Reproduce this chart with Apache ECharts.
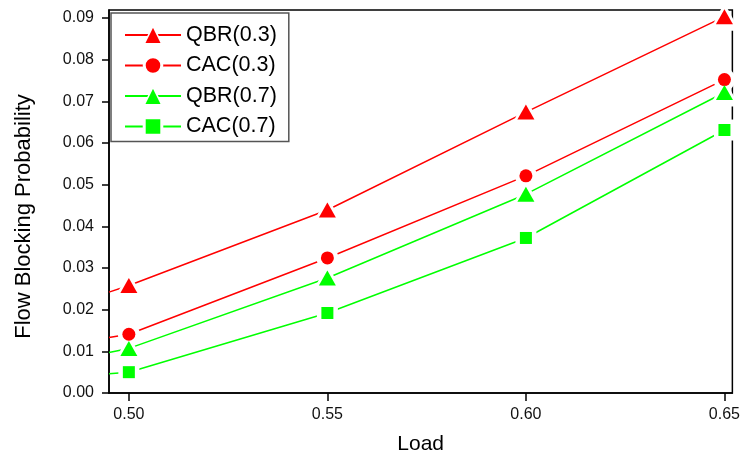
<!DOCTYPE html>
<html>
<head>
<meta charset="utf-8">
<script src="https://cdn.jsdelivr.net/npm/echarts@6/dist/echarts.min.js"></script>
<style>html,body{margin:0;padding:0;background:#fff}#chart{width:743px;height:460px}</style>
</head>
<body>
<div id="chart"></div>
<script>
// Data
const loads = [0.50, 0.55, 0.60, 0.65];
const xTicks = [0.50, 0.55, 0.60, 0.65];
const yTicks = [0.00, 0.01, 0.02, 0.03, 0.04, 0.05, 0.06, 0.07, 0.08, 0.09];
const seriesNames = ['QBR(0.3)', 'CAC(0.3)', 'QBR(0.7)', 'CAC(0.7)'];
const qbr03 = [0.0258, 0.0439, 0.0674, 0.0903];
const cac03 = [0.0141, 0.0324, 0.0521, 0.0752];
const qbr07 = [0.0107, 0.0276, 0.0477, 0.0721];
const cac07 = [0.0050, 0.0192, 0.0372, 0.0631];
// line values where each curve enters the plot at the left frame edge
const edgeLoad = 0.495;
const edgeValues = [0.0242, 0.0133, 0.0097, 0.0046];

const allValues = [qbr03, cac03, qbr07, cac07];
const colors = ['#ff0000', '#ff0000', '#00ff00', '#00ff00'];
const symbols = ['triangle', 'circle', 'triangle', 'rect'];
const symSizes = [[17, 15], 13, [17, 15], 12];
const haloGrow = [13, 9, 13, 9];
const legendHalo = [1.5, 3, 1.5, 3];
const FONT = '"Liberation Sans", Arial, sans-serif';

function grow(s, d) { return Array.isArray(s) ? [s[0] + d, s[1] + d] : s + d; }

const series = [];
allValues.forEach((vals, i) => {
  series.push({
    name: seriesNames[i], type: 'line', z: 2,
    data: [[edgeLoad, edgeValues[i]]].concat(loads.map((x, k) => [x, vals[k]])),
    symbol: symbols[i], symbolSize: symSizes[i], showSymbol: false,
    lineStyle: { color: colors[i], width: 1.5 },
    itemStyle: { color: colors[i], opacity: 1 },
    emphasis: { disabled: true }, silent: true, animation: false
  });
});
allValues.forEach((vals, i) => {
  series.push({
    name: seriesNames[i] + '_halo', type: 'scatter', z: 5, clip: false,
    data: loads.map((x, k) => [x, vals[k]]),
    symbol: symbols[i], symbolSize: grow(symSizes[i], haloGrow[i]),
    itemStyle: { color: '#ffffff', opacity: 1 },
    emphasis: { disabled: true }, silent: true, animation: false
  });
});
allValues.forEach((vals, i) => {
  series.push({
    name: seriesNames[i] + '_mark', type: 'scatter', z: 6, clip: false,
    data: loads.map((x, k) => [x, vals[k]]),
    symbol: symbols[i], symbolSize: symSizes[i],
    itemStyle: { color: colors[i], opacity: 1 },
    emphasis: { disabled: true }, silent: true, animation: false
  });
});

const chart = echarts.init(document.getElementById('chart'), null, { renderer: 'canvas' });
chart.setOption({
  animation: false,
  backgroundColor: '#ffffff',
  textStyle: { fontFamily: FONT },
  grid: { left: 109, top: 10, right: 10, bottom: 67, show: true, borderColor: '#000', borderWidth: 1.5, backgroundColor: 'transparent' },
  legend: {
    data: seriesNames.map((n, i) => ({ name: n, itemStyle: { borderColor: '#ffffff', borderWidth: legendHalo[i] } })),
    orient: 'vertical', left: 111, top: 13,
    padding: [11, 12, 4, 13], itemGap: 8.5,
    itemWidth: 56, itemHeight: 22,
    backgroundColor: '#fff', borderColor: '#555', borderWidth: 1.5, borderRadius: 0,
    textStyle: { fontFamily: FONT, fontSize: 21.5, color: '#000', lineHeight: 21 },
    selectedMode: false
  },
  xAxis: {
    type: 'value', min: edgeLoad, max: 0.652,
    name: 'Load', nameLocation: 'middle', nameGap: 41,
    nameTextStyle: { fontFamily: FONT, fontSize: 21, color: '#000' },
    axisLine: { show: true, lineStyle: { color: '#000', width: 1.5 } },
    axisTick: { show: true, length: 8, lineStyle: { color: '#000', width: 1.5 }, customValues: xTicks },
    axisLabel: { fontFamily: FONT, fontSize: 16, color: '#111', margin: 14, customValues: xTicks, formatter: v => v.toFixed(2) },
    splitLine: { show: false }
  },
  yAxis: {
    type: 'value', min: 0, max: 0.0919,
    name: 'Flow Blocking Probability', nameLocation: 'middle', nameGap: 74,
    nameTextStyle: { fontFamily: FONT, fontSize: 22, color: '#000', padding: [0, 30, 0, 0] },
    axisLine: { show: true, lineStyle: { color: '#000', width: 1.5 } },
    axisTick: { show: true, length: 7, lineStyle: { color: '#000', width: 1.5 }, customValues: yTicks },
    axisLabel: { fontFamily: FONT, fontSize: 16, color: '#111', margin: 15, customValues: yTicks, formatter: v => v.toFixed(2) },
    splitLine: { show: false }
  },
  series: series
});
</script>
</body>
</html>
